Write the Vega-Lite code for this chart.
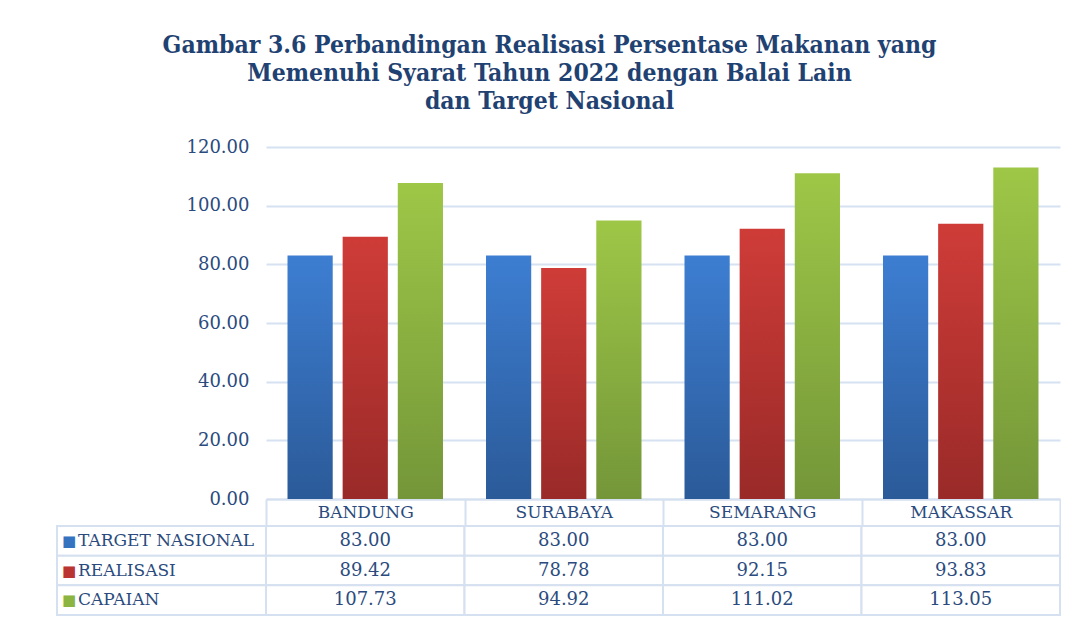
{
  "$schema": "https://vega.github.io/schema/vega-lite/v6.json",
  "background": "white",
  "padding": {"left": 56, "top": 32, "right": 0, "bottom": 0},
  "title": {
    "text": ["Gambar 3.6 Perbandingan Realisasi Persentase Makanan yang", "Memenuhi Syarat Tahun 2022 dengan Balai Lain", "dan Target Nasional"],
    "font": "DejaVu Serif Condensed, DejaVu Serif",
    "fontSize": 24.5,
    "fontWeight": "bold",
    "color": "#1F4272",
    "lineHeight": 28,
    "anchor": "middle",
    "dx": -9,
    "offset": 24
  },
  "datasets": {
    "d": [
      {"kota": "BANDUNG", "seri": "TARGET NASIONAL", "nilai": 83.00},
      {"kota": "BANDUNG", "seri": "REALISASI", "nilai": 89.42},
      {"kota": "BANDUNG", "seri": "CAPAIAN", "nilai": 107.73},
      {"kota": "SURABAYA", "seri": "TARGET NASIONAL", "nilai": 83.00},
      {"kota": "SURABAYA", "seri": "REALISASI", "nilai": 78.78},
      {"kota": "SURABAYA", "seri": "CAPAIAN", "nilai": 94.92},
      {"kota": "SEMARANG", "seri": "TARGET NASIONAL", "nilai": 83.00},
      {"kota": "SEMARANG", "seri": "REALISASI", "nilai": 92.15},
      {"kota": "SEMARANG", "seri": "CAPAIAN", "nilai": 111.02},
      {"kota": "MAKASSAR", "seri": "TARGET NASIONAL", "nilai": 83.00},
      {"kota": "MAKASSAR", "seri": "REALISASI", "nilai": 93.83},
      {"kota": "MAKASSAR", "seri": "CAPAIAN", "nilai": 113.05}
    ]
  },
  "columns": 2,
  "bounds": "flush",
  "spacing": {"row": 27, "column": 0},
  "concat": [
    {
      "width": 209,
      "height": 352,
      "data": {"values": [{"t": ""}]},
      "mark": {"type": "text"},
      "encoding": {"text": {"field": "t"}}
    },
    {
      "width": 794,
      "height": 352,
      "data": {"name": "d"},
      "encoding": {
        "x": {
          "field": "kota",
          "type": "nominal",
          "sort": ["BANDUNG", "SURABAYA", "SEMARANG", "MAKASSAR"],
          "scale": {"paddingInner": 0, "paddingOuter": 0},
          "axis": {
            "title": null,
            "orient": "bottom",
            "labelAngle": 0,
            "tickBand": "extent",
            "ticks": true,
            "tickSize": 27,
            "tickWidth": 2,
            "tickColor": "#D5E0F0",
            "domain": true,
            "domainColor": "#D5E0F0",
            "domainWidth": 2,
            "labelBaseline": "middle",
            "labelPadding": -14,
            "labelFont": "DejaVu Serif",
            "labelFontSize": 17,
            "labelColor": "#2B4B7E"
          }
        },
        "xOffset": {
          "field": "seri",
          "type": "nominal",
          "sort": ["TARGET NASIONAL", "REALISASI", "CAPAIAN"],
          "scale": {"domain": ["TARGET NASIONAL", "REALISASI", "CAPAIAN"], "paddingInner": 0.18, "paddingOuter": 0.39}
        },
        "y": {
          "field": "nilai",
          "type": "quantitative",
          "scale": {"domain": [0, 120], "nice": false, "zero": true},
          "axis": {
            "title": null,
            "values": [0, 20, 40, 60, 80, 100, 120],
            "format": ".2f",
            "domain": false,
            "ticks": false,
            "grid": true,
            "gridColor": "#D6E1F1",
            "gridWidth": 2,
            "labelPadding": 17,
            "labelFont": "DejaVu Serif",
            "labelFontSize": 18,
            "labelColor": "#2B4B7E"
          }
        }
      },
      "layer": [
        {
          "transform": [{"filter": "datum.seri === 'TARGET NASIONAL'"}],
          "mark": {"type": "bar", "color": {"gradient": "linear", "x1": 0, "y1": 0, "x2": 0, "y2": 1, "stops": [{"offset": 0, "color": "#3D7ED2"}, {"offset": 1, "color": "#2B5A98"}]}}
        },
        {
          "transform": [{"filter": "datum.seri === 'REALISASI'"}],
          "mark": {"type": "bar", "color": {"gradient": "linear", "x1": 0, "y1": 0, "x2": 0, "y2": 1, "stops": [{"offset": 0, "color": "#CF3C38"}, {"offset": 1, "color": "#992A28"}]}}
        },
        {
          "transform": [{"filter": "datum.seri === 'CAPAIAN'"}],
          "mark": {"type": "bar", "color": {"gradient": "linear", "x1": 0, "y1": 0, "x2": 0, "y2": 1, "stops": [{"offset": 0, "color": "#9EC747"}, {"offset": 1, "color": "#749639"}]}}
        }
      ]
    },
    {
      "width": 209,
      "height": 89,
      "data": {"name": "d"},
      "transform": [{"filter": "datum.kota === 'BANDUNG'"}],
      "encoding": {
        "y": {
          "field": "seri",
          "type": "nominal",
          "scale": {"domain": ["TARGET NASIONAL", "REALISASI", "CAPAIAN"], "paddingInner": 0, "paddingOuter": 0},
          "axis": null
        }
      },
      "layer": [
        {
          "mark": {"type": "rect", "fill": "white", "stroke": "#D5E0F0", "strokeWidth": 2},
          "encoding": {
            "x": {"datum": 0, "type": "quantitative", "scale": {"domain": [0, 1]}, "axis": null},
            "x2": {"datum": 1}
          }
        },
        {
          "mark": {"type": "text", "text": "■", "font": "DejaVu Sans", "fontSize": 15, "align": "left", "baseline": "middle", "dx": 5},
          "encoding": {
            "x": {"datum": 0, "type": "quantitative", "scale": {"domain": [0, 1]}, "axis": null},
            "color": {
              "field": "seri",
              "type": "nominal",
              "scale": {"domain": ["TARGET NASIONAL", "REALISASI", "CAPAIAN"], "range": ["#3572C0", "#BA3432", "#8CB440"]},
              "legend": null
            }
          }
        },
        {
          "mark": {"type": "text", "font": "DejaVu Serif", "fontSize": 17, "align": "left", "baseline": "middle", "dx": 21, "color": "#2B4B7E"},
          "encoding": {
            "x": {"datum": 0, "type": "quantitative", "scale": {"domain": [0, 1]}, "axis": null},
            "text": {"field": "seri"}
          }
        }
      ]
    },
    {
      "width": 794,
      "height": 89,
      "data": {"name": "d"},
      "encoding": {
        "x": {
          "field": "kota",
          "type": "nominal",
          "sort": ["BANDUNG", "SURABAYA", "SEMARANG", "MAKASSAR"],
          "scale": {"paddingInner": 0, "paddingOuter": 0},
          "axis": null
        },
        "y": {
          "field": "seri",
          "type": "nominal",
          "scale": {"domain": ["TARGET NASIONAL", "REALISASI", "CAPAIAN"], "paddingInner": 0, "paddingOuter": 0},
          "axis": null
        }
      },
      "layer": [
        {"mark": {"type": "rect", "fill": "white", "stroke": "#D5E0F0", "strokeWidth": 2}},
        {
          "mark": {"type": "text", "font": "DejaVu Serif", "fontSize": 18, "baseline": "middle", "color": "#2B4B7E"},
          "encoding": {"text": {"field": "nilai", "type": "quantitative", "format": ".2f"}}
        }
      ]
    }
  ],
  "config": {
    "view": {"stroke": null},
    "axis": {"labelFont": "DejaVu Serif"}
  }
}
